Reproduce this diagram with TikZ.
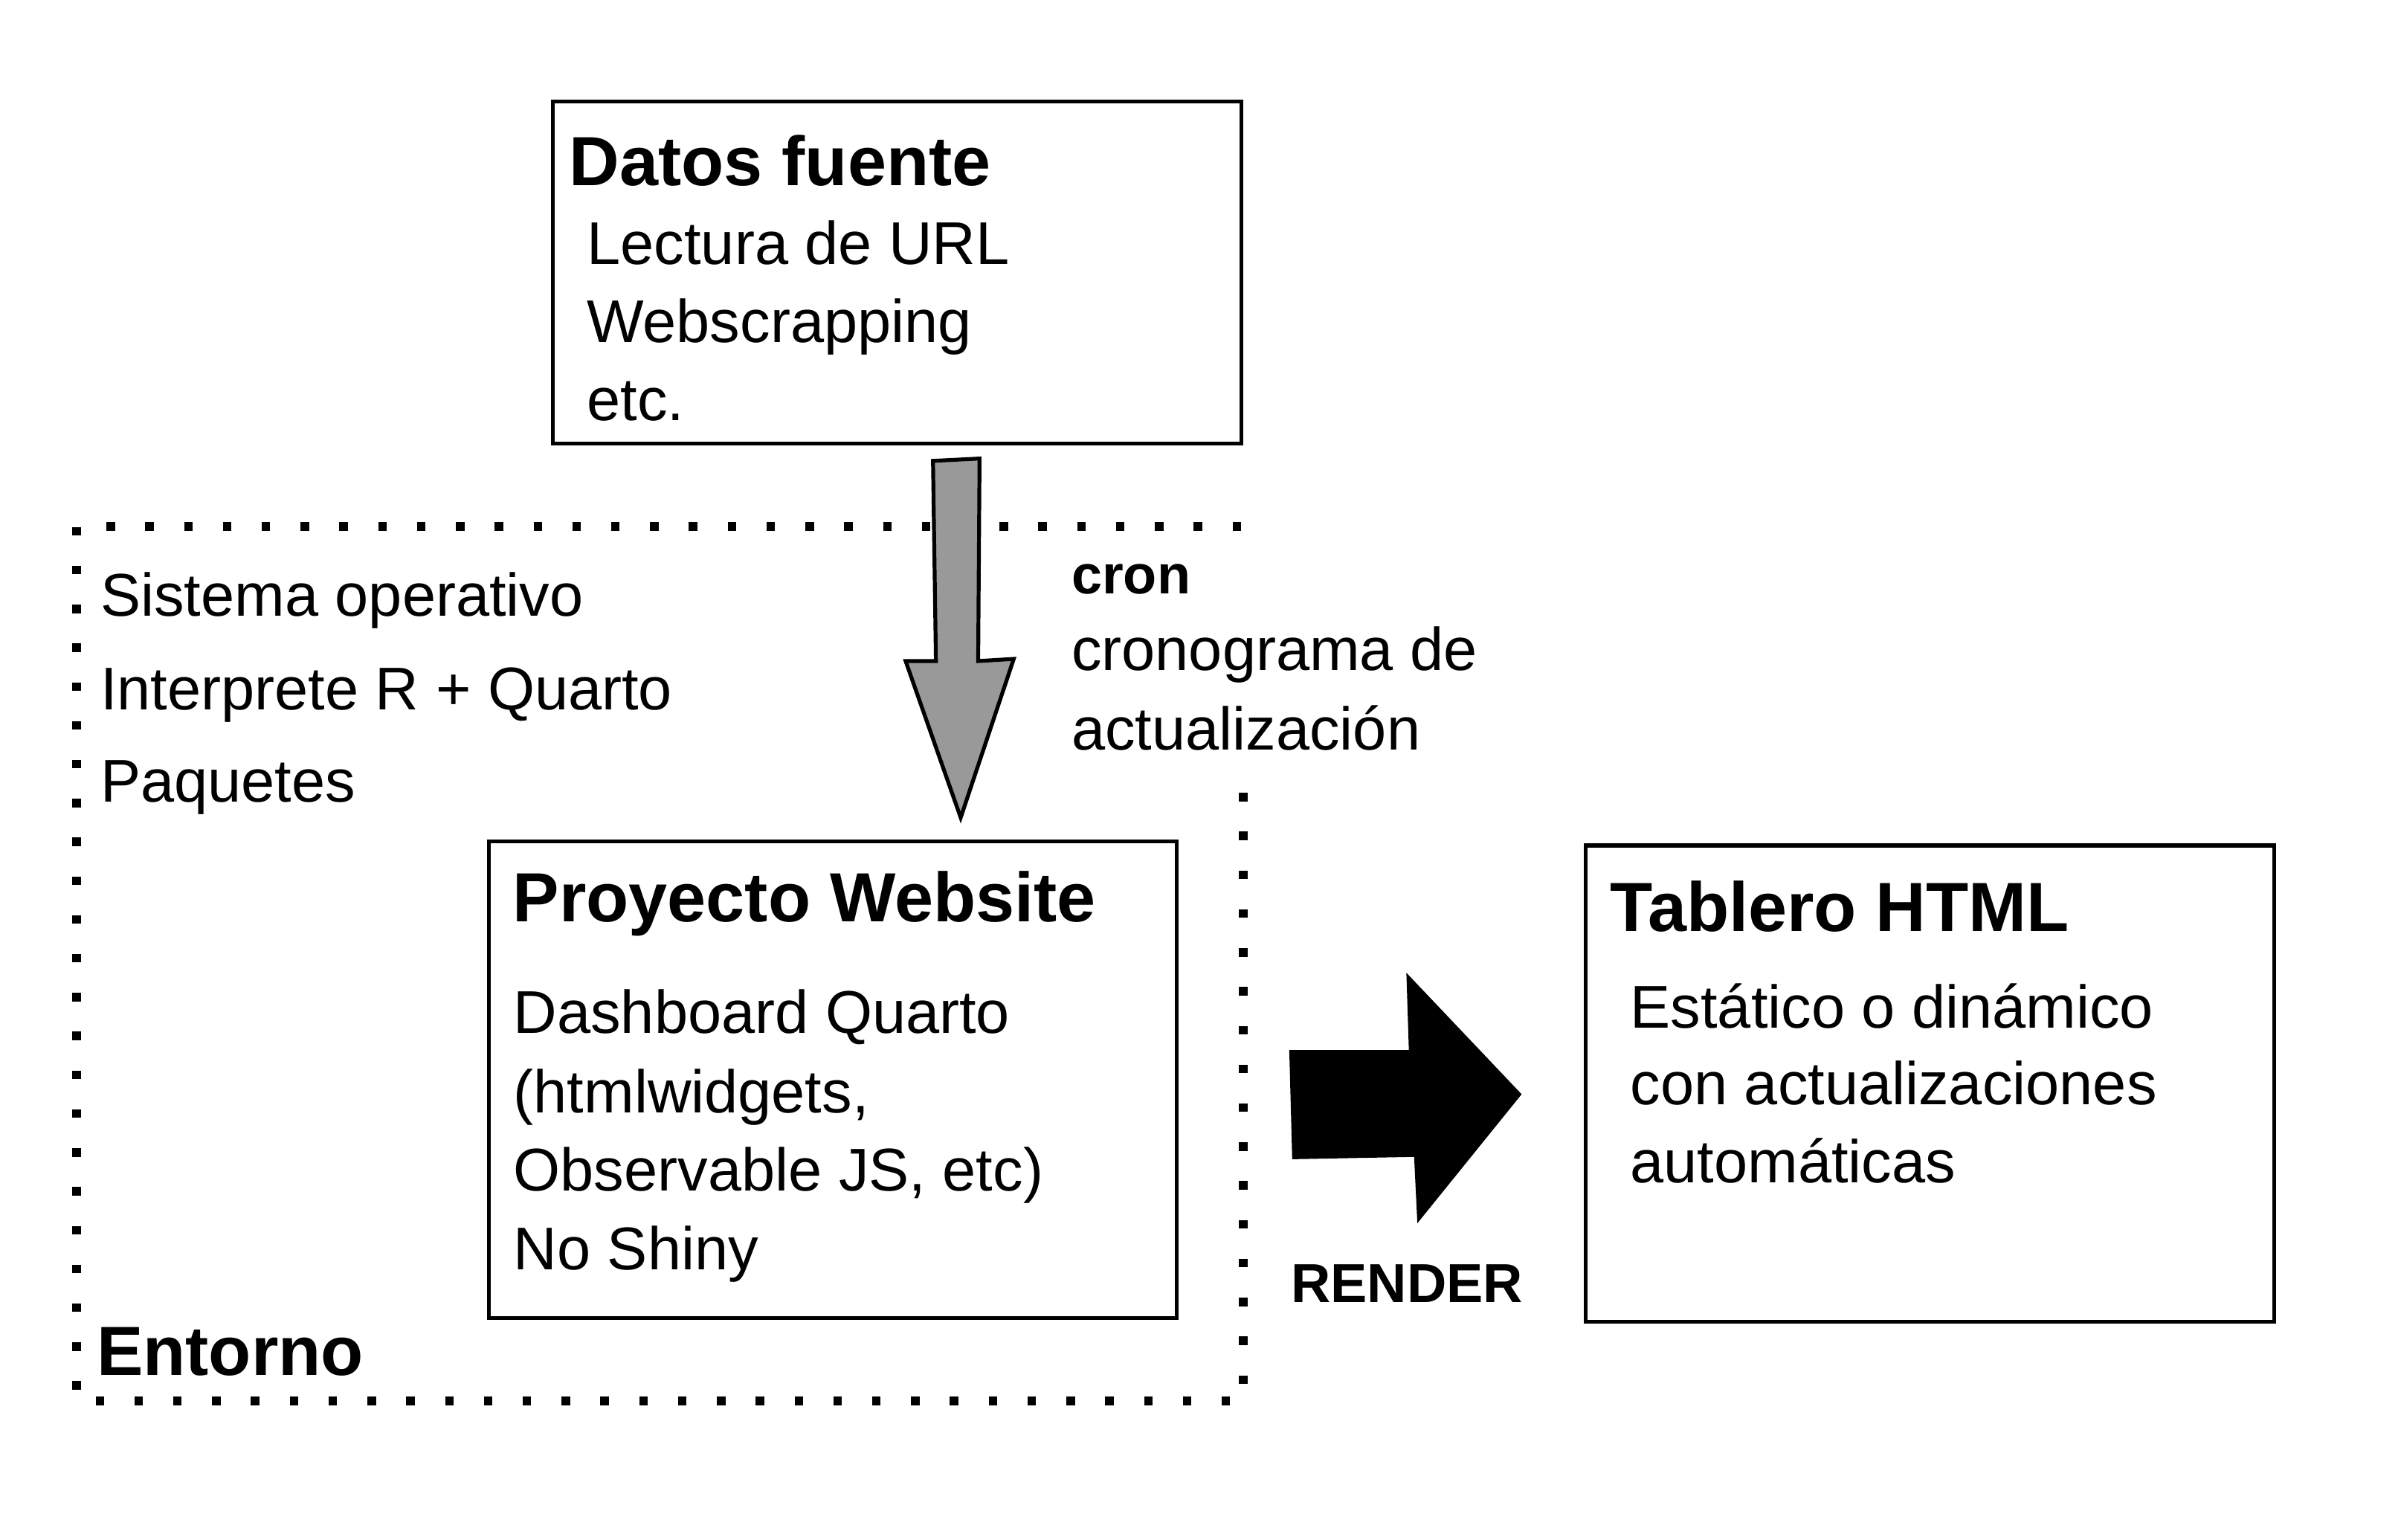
\documentclass[tikz,border=0pt]{standalone}
\usepackage{fontspec}
\setmainfont{Liberation Sans}
\definecolor{arrowgray}{RGB}{153,153,153}
\begin{document}
\begin{tikzpicture}[x=1pt,y=-1pt,
  box/.style={draw=black, line width=2.5pt, inner sep=0pt, outer sep=0pt},
  ttl/.style={anchor=base west, inner sep=0pt, font=\fontsize{45}{54}\selectfont\bfseries},
  txt/.style={anchor=base west, inner sep=0pt, font=\fontsize{39}{47}\selectfont},
  lbl/.style={anchor=base west, inner sep=0pt, font=\fontsize{35.5}{42}\selectfont\bfseries},
  dotline/.style={line width=5.5pt, dash pattern=on 5.5pt off 19.6pt, line cap=butt},
  grayarrow/.style={fill=arrowgray, draw=black, line width=2.5pt, line join=miter},
  blackarrow/.style={fill=black, draw=none}]
\useasboundingbox (0,0) rectangle (1552.05,995.4);

% Entorno (dotted frame)
\draw[dotline] (803.7,512.5) -- (803.7,905.6) -- (49.5,905.6) -- (49.5,340.3) -- (806.45,340.3);
\node[txt] (so)  at (64.8,398.3) {Sistema operativo};
\node[txt] (ir)  at (64.8,458.9) {Interprete R + Quarto};
\node[txt] (paq) at (64.8,518.4) {Paquetes};
\node[ttl] (ent) at (62.3,888.8) {Entorno};

% Datos fuente
\node[box, minimum width=445.1pt, minimum height=221pt] (datos) at (579.85,176.1) {};
\node[ttl] (datost) at (367.8,120.1) {Datos fuente};
\node[txt] (d1) at (379.3,170.7) {Lectura de URL};
\node[txt] (d2) at (379.3,221.3) {Webscrapping};
\node[txt] (d3) at (379.3,271.9) {etc.};

% Proyecto Website
\node[box, minimum width=444.5pt, minimum height=308pt] (proy) at (538.25,698) {};
\node[ttl] (proyt) at (331.3,596) {Proyecto Website};
\node[txt] (p1) at (331.8,668) {Dashboard Quarto};
\node[txt] (p2) at (331.8,719.5) {(htmlwidgets,};
\node[txt] (p3) at (331.8,770) {Observable JS, etc)};
\node[txt] (p4) at (331.8,820.7) {No Shiny};

% Tablero HTML
\node[box, minimum width=445pt, minimum height=307.9pt] (tab) at (1247.5,700.45) {};
\node[ttl] (tabt) at (1040.8,602.2) {Tablero HTML};
\node[txt] (t1) at (1053.7,664.4) {Estático o dinámico};
\node[txt] (t2) at (1053.7,714) {con actualizaciones};
\node[txt] (t3) at (1053.7,764.6) {automáticas};

% cron label
\node[lbl] (cron) at (692.5,383.7) {cron};
\node[txt] (c1) at (692.5,433.3) {cronograma de};
\node[txt] (c2) at (692.5,484.8) {actualización};

% gray arrow: Datos fuente -> Proyecto Website
\draw[grayarrow] (603.1,297.9) -- (633.2,296.4) -- (632.3,427.3) -- (655.3,425.9)
  -- (621,528.5) -- (585.4,427.3) -- (605,427.3) -- cycle;

% black arrow: RENDER -> Tablero HTML
\fill[blackarrow] (833.4,678.8) -- (910.7,678.8) -- (909.1,628.8) -- (983.6,707.3)
  -- (916.2,790.7) -- (914.1,747.8) -- (835.3,749.3) -- cycle;
\node[lbl] (render) at (834.3,842.1) {RENDER};
\end{tikzpicture}
\end{document}
